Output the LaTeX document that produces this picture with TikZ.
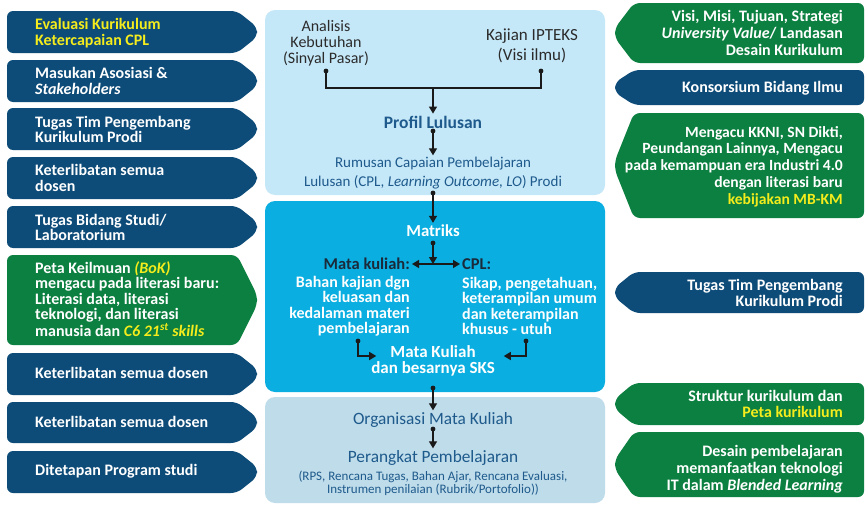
\documentclass[tikz,border=0pt]{standalone}
\usepackage{fontspec}
\setmainfont{Carlito}
\usetikzlibrary{arrows.meta,calc}
\definecolor{navy}{HTML}{0D4B78}
\definecolor{grn}{HTML}{0C8040}
\definecolor{hl}{HTML}{F4EC1C}
\definecolor{ptop}{HTML}{C5E8F9}
\definecolor{pmid}{HTML}{0AAEE0}
\definecolor{pbot}{HTML}{BFDCEA}
\definecolor{bluetxt}{HTML}{1E5A8C}
\definecolor{darktxt}{HTML}{2B2B2B}
\definecolor{mdark}{HTML}{1B2A3A}
\definecolor{lnc}{HTML}{1A1A1A}
\newcommand\LArrow[3]{%
  \pgfmathsetmacro\chy{(#2-#1-10)/2}%
  \fill[#3,rounded corners=6pt] (7,#1) -- (237,#1) -- (257,#1+\chy) -- (257,#2-\chy) -- (237,#2) -- (7,#2) -- cycle;}
\newcommand\RArrow[3]{%
  \pgfmathsetmacro\chy{(#2-#1-10)/2}%
  \fill[#3,rounded corners=6pt] (864,#1) -- (634,#1) -- (615,#1+\chy) -- (615,#2-\chy) -- (634,#2) -- (864,#2) -- cycle;}
\begin{document}
\begin{tikzpicture}[x=1pt,y=-1pt,
  ltxt/.style={anchor=west,inner sep=0pt,align=left,text=white,font=\bfseries\fontsize{16}{15.5}\selectfont},
  rtxt/.style={anchor=east,inner sep=0pt,align=right,text=white,font=\bfseries\fontsize{16}{16.8}\selectfont},
  ctop/.style={inner sep=2pt,align=center,text=darktxt,font=\fontsize{16}{16}\selectfont},
  cblue/.style={inner sep=2pt,align=center,text=bluetxt,font=\fontsize{15}{19}\selectfont},
  cmid/.style={inner sep=2pt,text=white,font=\bfseries\fontsize{16}{15.5}\selectfont},
  ln/.style={draw=lnc,line width=1.3pt},
  arr/.style={ln,-{Triangle[width=8pt,length=7pt]}},
  darr/.style={ln,{Triangle[width=8pt,length=7pt]}-{Triangle[width=8pt,length=7pt]}},
  dot/.style={fill=lnc}
]
\useasboundingbox (0,0) rectangle (868,506);
\fill[white] (0,0) rectangle (868,506);
% center panels
\fill[ptop,rounded corners=10pt] (265,10) rectangle (605,195);
\fill[pmid,rounded corners=10pt] (265,201) rectangle (605,392);
\fill[pbot,rounded corners=10pt] (265,397) rectangle (605,503);
% left arrow boxes
\LArrow{11}{53}{navy}
\LArrow{60}{102}{navy}
\LArrow{108}{150}{navy}
\LArrow{157}{199}{navy}
\LArrow{206}{248}{navy}
\LArrow{255}{345}{grn}
\LArrow{353}{395}{navy}
\LArrow{402}{443}{navy}
\LArrow{451}{493}{navy}
\node[ltxt] (l1) at (35,33) {\textcolor{hl}{Evaluasi Kurikulum}\\\textcolor{hl}{Ketercapaian CPL}};
\node[ltxt] (l2) at (35,81) {Masukan Asosiasi \&\\\textit{Stakeholders}};
\node[ltxt] (l3) at (35,129.5) {Tugas Tim Pengembang\\Kurikulum Prodi};
\node[ltxt] (l4) at (35,178) {Keterlibatan semua\\dosen};
\node[ltxt] (l5) at (35,227.5) {Tugas Bidang Studi/\\Laboratorium};
\node[ltxt] (l6) at (35,299) {Peta Keilmuan \textcolor{hl}{\textit{(BoK)}}\\mengacu pada literasi baru:\\Literasi data, literasi\\teknologi, dan literasi\\manusia dan \textcolor{hl}{\textit{C6 21\textsuperscript{st} skills}}};
\node[ltxt] (l7) at (35,373) {Keterlibatan semua dosen};
\node[ltxt] (l8) at (35,422) {Keterlibatan semua dosen};
\node[ltxt] (l9) at (35,471) {Ditetapan Program studi};
% right arrow boxes
\RArrow{3}{63}{grn}
\RArrow{70}{105}{navy}
\RArrow{113}{218}{grn}
\RArrow{272}{313}{navy}
\RArrow{383}{425}{grn}
\RArrow{432}{497}{grn}
\node[rtxt] (r1) at (843,33) {Visi, Misi, Tujuan, Strategi\\\textit{University Value}/ Landasan\\Desain Kurikulum};
\node[rtxt] (r2) at (843,88) {Konsorsium Bidang Ilmu};
\node[rtxt,font=\bfseries\fontsize{15.6}{16.8}\selectfont] (r3) at (843,166.5) {Mengacu KKNI, SN Dikti,\\Peundangan Lainnya, Mengacu\\pada kemampuan era Industri 4.0\\dengan literasi baru\\\textcolor{hl}{kebijakan MB-KM}};
\node[rtxt] (r4) at (843,293) {Tugas Tim Pengembang\\Kurikulum Prodi};
\node[rtxt] (r5) at (843,404) {Struktur kurikulum dan\\\textcolor{hl}{Peta kurikulum}};
\node[rtxt] (r6) at (843,469) {Desain pembelajaran\\memanfaatkan teknologi\\IT dalam \textit{Blended Learning}};
% top panel content
\node[ctop] (ana) at (326,43) {Analisis\\Kebutuhan\\(Sinyal Pasar)};
\node[ctop,font=\fontsize{17}{20}\selectfont] (kaj) at (532,46) {Kajian IPTEKS\\(Visi ilmu)};
\coordinate (anaD) at (326,71);
\coordinate (kajD) at (541,71);
\coordinate (jn) at (433,88);
\node[cblue,font=\bfseries\fontsize{17.5}{18}\selectfont] (prof) at (433,122) {Profil Lulusan};
\coordinate (profD) at (433,131);
\node[cblue] (rum) at (433,173.5) {Rumusan Capaian Pembelajaran\\Lulusan (CPL, \textit{Learning Outcome, LO}) Prodi};
\coordinate (rumD) at (433,193);
\draw[ln] (anaD) |- (jn) -| (kajD);
\fill[dot] (anaD) circle (2.4pt);
\fill[dot] (kajD) circle (2.4pt);
\draw[arr] (jn) -- (prof);
\fill[dot] (profD) circle (2.4pt);
\draw[arr] (profD) -- (rum);
% middle panel content
\node[cmid,font=\bfseries\fontsize{16.8}{17}\selectfont] (mat) at (433,231) {Matriks};
\coordinate (matD) at (433,243);
\coordinate (mid) at (433,264);
\node[cmid,text=mdark,anchor=east,font=\bfseries\fontsize{16.5}{17}\selectfont] (mk) at (412,264) {Mata kuliah:};
\node[cmid,text=mdark,anchor=west,font=\bfseries\fontsize{16.5}{17}\selectfont] (cpl) at (460,264) {CPL:};
\node[cmid,anchor=east,align=right] (mkt) at (412,306) {Bahan kajian dgn\\keluasan dan\\kedalaman materi\\pembelajaran};
\node[cmid,anchor=west,align=left] (cplt) at (460,306) {Sikap, pengetahuan,\\keterampilan umum\\dan keterampilan\\khusus - utuh};
\coordinate (mkD) at (358,341);
\coordinate (cpD) at (526,341);
\node[cmid,font=\bfseries\fontsize{17}{17}\selectfont] (mks1) at (433,352) {Mata Kuliah};
\node[cmid,font=\bfseries\fontsize{17}{17}\selectfont] (mks2) at (433,369) {dan besarnya SKS};
\coordinate (mksD) at (433,388);
\draw[arr] (rumD) -- (mat);
\fill[dot] (rumD) circle (2.4pt);
\draw[darr] (mk.east) -- (cpl.west);
\draw[arr] (matD) -- (mid);
\fill[dot] (matD) circle (2.4pt);
\draw[arr,shorten >=12pt] (mkD) |- ([yshift=-4pt]mks1.west);
\draw[arr,shorten >=26pt] (cpD) |- ([yshift=-4pt]mks1.east);
\fill[dot] (mkD) circle (2.4pt);
\fill[dot] (cpD) circle (2.4pt);
% bottom panel content
\node[cblue,font=\fontsize{17.3}{18}\selectfont] (org) at (433,420) {Organisasi Mata Kuliah};
\coordinate (orgD) at (433,429);
\node[cblue,font=\fontsize{17.3}{18}\selectfont] (per) at (433,458) {Perangkat Pembelajaran};
\node[cblue,font=\fontsize{13}{13.5}\selectfont] (perd) at (433,483.5) {(RPS, Rencana Tugas, Bahan Ajar, Rencana Evaluasi,\\Instrumen penilaian (Rubrik/Portofolio))};
\draw[arr] (mksD) -- (org);
\fill[dot] (mksD) circle (2.4pt);
\draw[arr] (orgD) -- (per);
\fill[dot] (orgD) circle (2.4pt);
\end{tikzpicture}
\end{document}
